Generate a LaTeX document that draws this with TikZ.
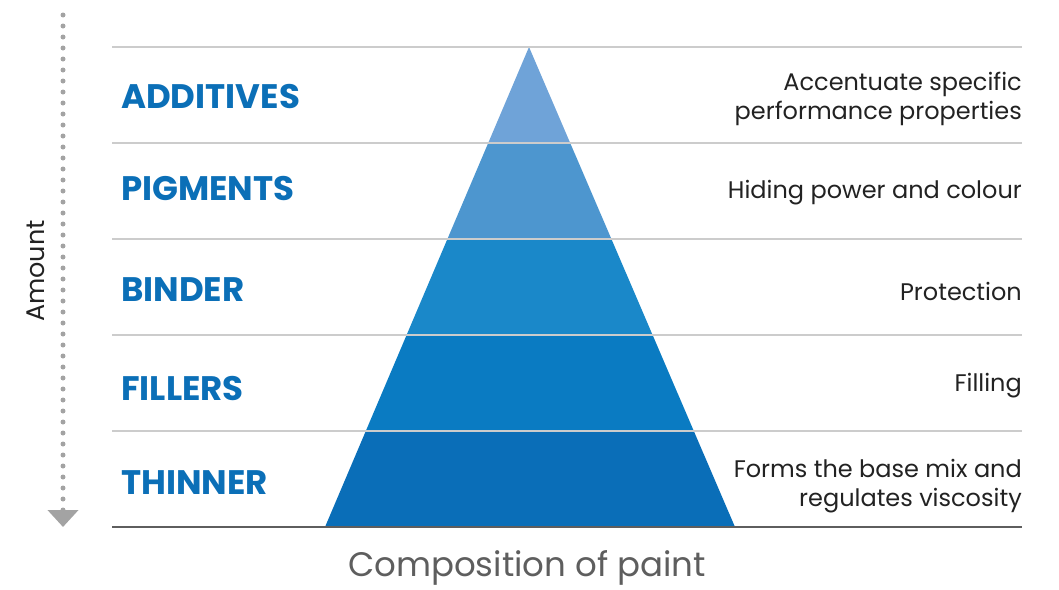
\documentclass[tikz,border=0pt]{standalone}
\usepackage{fontspec}
\setmainfont{Poppins}
\usetikzlibrary{arrows.meta,calc}
\definecolor{layerblue}{HTML}{0B6FB7}
\definecolor{pyrA}{HTML}{6FA3D8}
\definecolor{pyrB}{HTML}{4D96CF}
\definecolor{pyrC}{HTML}{1A88C9}
\definecolor{pyrD}{HTML}{0A7BC2}
\definecolor{pyrE}{HTML}{0A6EB8}
\definecolor{rulegray}{HTML}{CCCCCC}
\definecolor{basegray}{HTML}{5E5E5E}
\definecolor{dotgray}{HTML}{A3A3A3}
\definecolor{textgray}{HTML}{222222}
\tikzset{
    sep line/.style={rulegray,line width=1.2pt},
    base line/.style={basegray,line width=2.6pt},
    layer label/.style={anchor=west,inner sep=0pt,font=\bfseries\fontsize{34}{40}\selectfont,color=layerblue},
    role text/.style={anchor=east,inner sep=0pt,align=right,font=\fontsize{24}{29}\selectfont,color=textgray},
    axis title/.style={inner sep=0pt,font=\fontsize{34}{40}\selectfont,color=basegray},
    amount arrow/.style={dotgray,line width=5pt,line cap=round,dash pattern=on 0pt off 11pt,
        -{Triangle[width=30pt,length=17pt,line cap=butt]}},
}

\begin{document}
\begin{tikzpicture}[x=1pt,y=-1pt]
    \useasboundingbox (0,0) rectangle (1059,589);
    \coordinate (apex) at (529,47);
    \coordinate (baseL) at (325,527);
    \coordinate (baseR) at (735,527);

    % pyramid bands
    \foreach \i/\c in {0/pyrA,1/pyrB,2/pyrC,3/pyrD,4/pyrE}{
        \pgfmathsetmacro{\ta}{\i/5}
        \pgfmathsetmacro{\tb}{(\i+1)/5}
        \fill[\c] ($(apex)!\ta!(baseL)$) -- ($(apex)!\tb!(baseL)$)
            -- ($(apex)!\tb!(baseR)$) -- ($(apex)!\ta!(baseR)$) -- cycle;
    }

    % rules
    \foreach \y in {47,143,239,335,431}
        \draw[sep line] (112,\y) -- (1022,\y);
    \draw[base line] (112,527) -- (1022,527);

    % amount axis
    \coordinate (amount top) at (63,15);
    \coordinate (amount tip) at (63,527);
    \draw[amount arrow] (amount top) -- (amount tip);
    \node[rotate=90,inner sep=0pt,font=\fontsize{25.5}{30}\selectfont,color=textgray] (amount) at (36,271) {Amount};

    % layers
    \node[layer label] (additives) at (121,97) {ADDITIVES};
    \node[layer label] (pigments) at (121,189) {PIGMENTS};
    \node[layer label] (binder) at (121,290) {BINDER};
    \node[layer label] (fillers) at (121,389) {FILLERS};
    \node[layer label] (thinner) at (121,483) {THINNER};

    \node[role text] (accentuate) at (1022,99) {Accentuate specific\\performance properties};
    \node[role text] (hiding) at (1022,193) {Hiding power and colour};
    \node[role text] (protection) at (1022,291) {Protection};
    \node[role text] (filling) at (1022,386) {Filling};
    \node[role text] (forms) at (1022,486) {Forms the base mix and\\regulates viscosity};

    \node[axis title] (composition) at (527,568) {Composition of paint};
\end{tikzpicture}
\end{document}
